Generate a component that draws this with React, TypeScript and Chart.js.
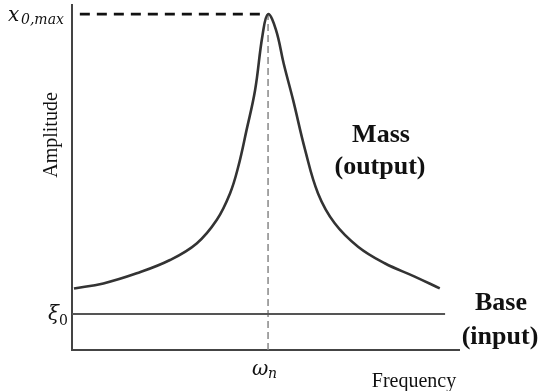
import React, { useEffect, useRef } from "react";
import { Chart, registerables } from "chart.js";

Chart.register(...registerables);

// Frequency in units of the natural frequency (ω_n = 1), amplitude in units of ξ0
const massFreq = [0.01, 0.16, 0.33, 0.5, 0.636, 0.738, 0.806, 0.848, 0.89, 0.934, 0.972, 1.0, 1.04, 1.08, 1.128, 1.189, 1.255, 1.34, 1.459, 1.595, 1.748, 1.876];
const massAmp = [1.71, 1.85, 2.13, 2.5, 2.96, 3.61, 4.35, 5.09, 6.1, 7.22, 8.75, 9.33, 8.9, 7.95, 6.94, 5.56, 4.35, 3.52, 2.87, 2.41, 2.04, 1.71];
const baseFreq = [0, 1.903];
const baseAmp = [1, 1];
const naturalFreq = 1;
const peakAmp = 9.33;
const xMax = 1.974;
const yMax = 9.583;

const labelsPlugin = {
  id: "labels",
  afterDraw(chart: any) {
    const ctx = chart.ctx;
    const xs = chart.scales.x;
    const ys = chart.scales.y;
    const peakY = ys.getPixelForValue(peakAmp);
    const baseY = ys.getPixelForValue(1);
    ctx.save();
    ctx.fillStyle = "#111";
    ctx.textBaseline = "alphabetic";

    // x_{0,max}
    ctx.textAlign = "left";
    ctx.font = "italic 20px 'DejaVu Serif'";
    ctx.fillText("x", 8, peakY + 7);
    ctx.font = "italic 14px 'DejaVu Serif'";
    ctx.fillText("0,max", 21, peakY + 10);

    // ξ0
    ctx.font = "italic 20px 'DejaVu Serif'";
    ctx.fillText("ξ", 48, baseY + 6);
    ctx.font = "14px 'DejaVu Serif'";
    ctx.fillText("0", 59, baseY + 11);

    // ω_n
    ctx.font = "italic 20px 'DejaVu Serif'";
    ctx.fillText("ω", 252, 375);
    ctx.font = "italic 14px 'DejaVu Serif'";
    ctx.fillText("n", 268, 378);

    // Axis titles
    ctx.font = "20px 'Liberation Serif'";
    ctx.textAlign = "center";
    ctx.fillText("Frequency", 414, 387);
    ctx.save();
    ctx.translate(57, 135);
    ctx.rotate(-Math.PI / 2);
    ctx.fillText("Amplitude", 0, 0);
    ctx.restore();

    // Series labels
    ctx.font = "bold 26px 'Liberation Serif'";
    ctx.fillText("Mass", 381, 142);
    ctx.fillText("(output)", 380, 174);
    ctx.fillText("Base", 501, 310);
    ctx.fillText("(input)", 500, 344);
    ctx.restore();
  },
};

export default function App() {
  const ref = useRef<HTMLCanvasElement>(null);
  useEffect(() => {
    if (!ref.current) return;
    const chart = new Chart(ref.current, {
      type: "scatter",
      data: {
        datasets: [
          {
            label: "Mass (output)",
            data: massFreq.map((x, i) => ({ x, y: massAmp[i] })),
            showLine: true,
            borderColor: "#333",
            borderWidth: 2.6,
            pointRadius: 0,
            tension: 0.4,
          },
          {
            label: "Base (input)",
            data: baseFreq.map((x, i) => ({ x, y: baseAmp[i] })),
            showLine: true,
            borderColor: "#555",
            borderWidth: 1.8,
            pointRadius: 0,
          },
          {
            label: "x0max",
            data: [
              { x: 0.04, y: peakAmp },
              { x: naturalFreq - 0.02, y: peakAmp },
            ],
            showLine: true,
            borderColor: "#111",
            borderWidth: 2.6,
            borderDash: [10, 7],
            pointRadius: 0,
          },
          {
            label: "wn",
            data: [
              { x: naturalFreq, y: 0 },
              { x: naturalFreq, y: peakAmp },
            ],
            showLine: true,
            borderColor: "#888",
            borderWidth: 1.5,
            borderDash: [7, 4],
            pointRadius: 0,
          },
        ],
      },
      options: {
        animation: false,
        responsive: false,
        layout: { padding: { left: 72, top: 5, right: 82, bottom: 41 } },
        plugins: { legend: { display: false }, tooltip: { enabled: false } },
        scales: {
          x: {
            type: "linear",
            min: 0,
            max: xMax,
            grid: { display: false, drawTicks: false },
            ticks: { display: false },
            border: { display: true, color: "#444", width: 2 },
            afterFit: (s: any) => { s.height = 0; },
          },
          y: {
            type: "linear",
            min: 0,
            max: yMax,
            grid: { display: false, drawTicks: false },
            ticks: { display: false },
            border: { display: true, color: "#444", width: 2 },
            afterFit: (s: any) => { s.width = 0; },
          },
        },
      },
      plugins: [labelsPlugin],
    } as any);
    return () => chart.destroy();
  }, []);
  return (
    <div style={{ position: "absolute", left: 0, top: 0, width: 541, height: 391, background: "#fff" }}>
      <canvas ref={ref} width={541} height={391} style={{ display: "block" }} />
    </div>
  );
}
